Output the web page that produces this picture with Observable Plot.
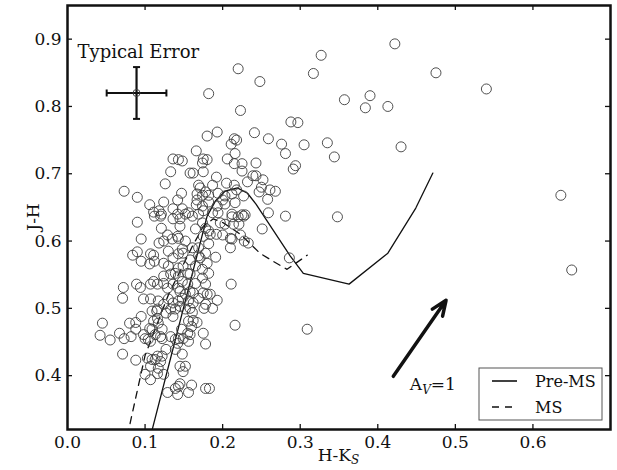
<!DOCTYPE html>
<html><head><meta charset="utf-8">
<script src="https://cdn.jsdelivr.net/npm/d3@7"></script>
<script src="https://cdn.jsdelivr.net/npm/@observablehq/plot@0.6"></script>
<style>
body{margin:0;background:#fff;}
#chart{width:617px;height:470px;}
</style></head><body><div id="chart"></div>
<script>
// Stars: H-Ks and J-H colours
const hk = [
0.327,0.220,0.248,0.317,0.357,0.182,0.223,0.288,0.297,0.180,
0.193,0.241,0.259,0.215,0.218,0.211,0.276,0.305,0.335,0.281,
0.344,0.166,0.136,0.143,0.148,0.175,0.180,0.206,0.216,0.215,
0.225,0.243,0.174,0.294,0.291,0.225,0.133,0.158,0.162,0.175,
0.239,0.243,0.192,0.205,0.252,0.232,0.126,0.073,0.090,0.169,
0.171,0.187,0.215,0.147,0.218,0.250,0.247,0.261,0.178,0.167,
0.174,0.182,0.194,0.203,0.212,0.227,0.258,0.142,0.167,0.182,
0.200,0.216,0.166,0.174,0.193,0.203,0.148,0.156,0.175,0.187,
0.194,0.212,0.225,0.229,0.259,0.106,0.124,0.111,0.118,0.136,
0.121,0.268,0.281,0.348,0.286,0.309,0.211,0.216,0.422,0.475,
0.540,0.390,0.384,0.413,0.430,0.636,0.650,
0.090,0.112,0.120,0.142,0.136,0.121,0.095,0.118,0.124,0.129,
0.135,0.142,0.090,0.084,0.095,0.107,0.111,0.106,0.112,0.124,
0.130,0.136,0.143,0.130,0.124,0.133,0.139,0.143,0.072,0.071,
0.089,0.094,0.107,0.111,0.116,0.124,0.129,0.136,0.143,0.098,
0.107,0.117,0.124,0.130,0.136,0.143,0.116,0.133,
0.145,0.152,0.161,0.169,0.212,0.220,0.227,0.197,0.203,0.214,
0.221,0.145,0.174,0.178,0.165,0.182,0.184,0.192,0.200,0.210,
0.212,0.251,0.223,0.228,0.233,0.143,0.152,0.175,0.182,0.210,
0.148,0.161,0.169,0.178,0.149,0.169,0.171,0.191,0.158,0.180,
0.143,0.149,0.165,0.174,0.155,0.158,0.174,0.182,0.148,0.155,
0.165,0.178,0.145,0.152,0.158,0.162,0.175,0.180,0.184,0.193,
0.148,0.169,0.156,0.162,0.178,0.187,0.145,0.152,
0.045,0.042,0.055,0.067,0.073,0.082,0.080,0.088,0.088,0.095,
0.109,0.115,0.116,0.111,0.117,0.106,0.109,0.122,0.098,0.100,
0.104,0.107,0.113,0.120,0.122,0.133,0.139,0.143,0.127,0.136,
0.139,0.071,0.088,0.103,0.109,0.116,0.122,0.113,0.120,0.139,
0.127,0.107,0.117,0.100,0.107,0.116,0.124,0.139,0.143,0.142,
0.129,
0.158,0.176,0.161,0.156,0.162,0.167,0.160,0.147,0.155,0.158,
0.175,0.149,0.156,0.142,0.178,0.148,0.145,0.152,0.149,0.145,
0.160,0.156,0.178,0.183
];
const jh = [
0.876,0.856,0.837,0.849,0.810,0.819,0.794,0.777,0.776,0.756,
0.762,0.761,0.752,0.752,0.750,0.744,0.744,0.743,0.746,0.730,
0.725,0.734,0.722,0.721,0.719,0.722,0.721,0.722,0.730,0.715,
0.715,0.716,0.716,0.712,0.707,0.704,0.703,0.701,0.701,0.703,
0.697,0.697,0.695,0.686,0.691,0.688,0.685,0.674,0.665,0.683,
0.679,0.683,0.683,0.671,0.676,0.680,0.673,0.676,0.673,0.670,
0.668,0.668,0.671,0.667,0.670,0.667,0.662,0.661,0.661,0.658,
0.661,0.657,0.654,0.652,0.652,0.655,0.648,0.642,0.645,0.642,
0.642,0.640,0.639,0.639,0.642,0.654,0.658,0.643,0.645,0.648,
0.640,0.674,0.637,0.636,0.575,0.469,0.536,0.475,0.893,0.850,
0.826,0.816,0.798,0.800,0.740,0.668,0.557,
0.628,0.637,0.637,0.640,0.633,0.619,0.603,0.597,0.600,0.609,
0.603,0.607,0.584,0.579,0.570,0.581,0.579,0.566,0.570,0.567,
0.585,0.575,0.581,0.563,0.548,0.551,0.552,0.548,0.531,0.515,
0.536,0.531,0.536,0.540,0.536,0.537,0.530,0.536,0.530,0.514,
0.514,0.511,0.506,0.514,0.508,0.511,0.499,0.499,
0.633,0.640,0.637,0.640,0.636,0.636,0.637,0.627,0.625,0.625,
0.625,0.622,0.627,0.619,0.618,0.615,0.610,0.610,0.609,0.604,
0.603,0.618,0.609,0.600,0.597,0.604,0.600,0.607,0.596,0.590,
0.588,0.590,0.590,0.582,0.582,0.578,0.575,0.576,0.572,0.567,
0.560,0.563,0.563,0.558,0.552,0.551,0.545,0.552,0.540,0.536,
0.537,0.536,0.525,0.521,0.525,0.523,0.523,0.521,0.521,0.512,
0.515,0.515,0.511,0.508,0.506,0.500,0.503,0.499,
0.478,0.460,0.453,0.463,0.455,0.458,0.478,0.479,0.469,0.488,
0.496,0.496,0.485,0.481,0.478,0.470,0.469,0.469,0.461,0.455,
0.454,0.451,0.461,0.458,0.455,0.458,0.454,0.455,0.493,0.488,
0.499,0.432,0.423,0.426,0.424,0.429,0.429,0.424,0.421,0.439,
0.439,0.414,0.411,0.402,0.394,0.403,0.402,0.381,0.384,0.372,
0.375,
0.500,0.500,0.494,0.481,0.482,0.479,0.473,0.469,0.463,0.461,
0.463,0.455,0.451,0.448,0.447,0.432,0.414,0.414,0.406,0.388,
0.386,0.375,0.381,0.381
];

// Pre-main-sequence locus (solid)
const preMsHK = [0.107,0.180,0.191,0.203,0.219,0.232,0.243,0.287,0.304,0.363,0.413,0.449,0.471];
const preMsJH = [0.310,0.637,0.660,0.674,0.679,0.671,0.655,0.578,0.552,0.536,0.582,0.649,0.701];
// Main-sequence locus (dashed)
const msHK = [0.077,0.100,0.130,0.160,0.175,0.188,0.201,0.223,0.248,0.265,0.283,0.309];
const msJH = [0.310,0.430,0.520,0.590,0.622,0.633,0.627,0.610,0.582,0.570,0.558,0.579];

// Ticks
const xTicks = [0.0,0.1,0.2,0.3,0.4,0.5,0.6];
const yTicks = [0.4,0.5,0.6,0.7,0.8,0.9];

// Typical error bar
const errHK = [0.089];
const errJH = [0.820];
const errDHK = [0.0385];
const errDJH = [0.0385];

// Reddening vector A_V = 1
const vecHK = [0.420, 0.488];
const vecJH = [0.399, 0.512];

// Annotations
const errLabel = [{hk: 0.013, jh: 0.880, text: "Typical Error"}];
const avLabel = {hk: 0.442, jh: 0.378};

const W = 617, H = 470, mL = 67, mR = 7, mT = 5, mB = 41;
const innerH = H - mT - mB;
const innerW = W - mL - mR;
const ink = "#111";

const stars = hk.map((x, i) => ({hk: x, jh: jh[i]}));
const preMs = preMsHK.map((x, i) => ({hk: x, jh: preMsJH[i]}));
const ms = msHK.map((x, i) => ({hk: x, jh: msJH[i]}));
const err = errHK.map((x, i) => ({hk: x, jh: errJH[i], dhk: errDHK[i], djh: errDJH[i]}));
const vec = [{x1: vecHK[0], y1: vecJH[0], x2: vecHK[1], y2: vecJH[1]}];

const vCap = {draw(ctx) { ctx.moveTo(0, -3.5); ctx.lineTo(0, 3.5); }};
const hCap = {draw(ctx) { ctx.moveTo(-3.5, 0); ctx.lineTo(3.5, 0); }};

const plot = Plot.plot({
  width: W, height: H,
  marginLeft: mL, marginRight: mR, marginTop: mT, marginBottom: mB,
  x: {domain: [0, 0.7]},
  y: {domain: [0.32, 0.95]},
  style: {fontFamily: "DejaVu Serif", fontSize: "17px", color: ink, background: "#fff"},
  marks: [
    Plot.line(preMs, {x: "hk", y: "jh", stroke: ink, strokeWidth: 1.3, clip: true}),
    Plot.line(ms, {x: "hk", y: "jh", stroke: ink, strokeWidth: 1.3, strokeDasharray: "7,6", clip: true}),
    Plot.dot(stars, {x: "hk", y: "jh", r: 5, stroke: "#3c3c3c", strokeWidth: 0.9, fill: "none"}),
    // error bar
    Plot.link(err, {x1: d => d.hk - d.dhk, x2: d => d.hk + d.dhk, y1: "jh", y2: "jh", stroke: ink, strokeWidth: 2.2}),
    Plot.link(err, {x1: "hk", x2: "hk", y1: d => d.jh - d.djh, y2: d => d.jh + d.djh, stroke: ink, strokeWidth: 2.2}),
    Plot.dot(err.flatMap(d => [{x: d.hk - d.dhk, y: d.jh}, {x: d.hk + d.dhk, y: d.jh}]), {x: "x", y: "y", symbol: vCap, stroke: ink, fill: "none", strokeWidth: 2}),
    Plot.dot(err.flatMap(d => [{x: d.hk, y: d.jh - d.djh}, {x: d.hk, y: d.jh + d.djh}]), {x: "x", y: "y", symbol: hCap, stroke: ink, fill: "none", strokeWidth: 2}),
    Plot.dot(err, {x: "hk", y: "jh", r: 3.5, stroke: "#3c3c3c", strokeWidth: 0.9, fill: "none"}),
    Plot.text(errLabel, {x: "hk", y: "jh", text: "text", textAnchor: "start", fontSize: 18, fill: ink}),
    // reddening vector
    Plot.arrow(vec, {x1: "x1", y1: "y1", x2: "x2", y2: "y2", stroke: ink, strokeWidth: 3.5, headLength: 7, headAngle: 45}),
    // axes labels
    Plot.axisX({ticks: xTicks, tickSize: 0, tickPadding: 6, tickFormat: d => d.toFixed(1), label: null, fontSize: 17}),
    Plot.axisY({ticks: yTicks, tickSize: 0, tickPadding: 6, tickFormat: d => d.toFixed(1), label: null, fontSize: 17}),
    // inward ticks on all four sides
    Plot.ruleX(xTicks.slice(1), {x: d => d, stroke: ink, strokeWidth: 1.3, insetTop: innerH - 5}),
    Plot.ruleX(xTicks.slice(1), {x: d => d, stroke: ink, strokeWidth: 1.3, insetBottom: innerH - 5}),
    Plot.ruleY(yTicks, {y: d => d, stroke: ink, strokeWidth: 1.3, insetRight: innerW - 5}),
    Plot.ruleY(yTicks, {y: d => d, stroke: ink, strokeWidth: 1.3, insetLeft: innerW - 5}),
    Plot.frame({stroke: ink, strokeWidth: 2.5})
  ]
});

document.getElementById("chart").appendChild(plot);

const svg = d3.select(plot);
const sx = plot.scale("x"), sy = plot.scale("y");
const font = "DejaVu Serif";

// y-axis label
svg.append("text")
  .attr("transform", `translate(${mL - 28},${mT + innerH / 2}) rotate(-90)`)
  .attr("text-anchor", "middle").attr("font-family", font).attr("font-size", 17).attr("fill", ink)
  .text("J-H");

// x-axis label with subscript
const xl = svg.append("text")
  .attr("x", mL + innerW / 2).attr("y", H - 9)
  .attr("text-anchor", "middle").attr("font-family", font).attr("font-size", 17).attr("fill", ink);
xl.append("tspan").text("H-K");
xl.append("tspan").attr("font-size", 12).attr("font-style", "italic").attr("dy", 3).text("S");

// A_V = 1 label
const av = svg.append("text")
  .attr("x", sx.apply(avLabel.hk)).attr("y", sy.apply(avLabel.jh))
  .attr("text-anchor", "start").attr("font-family", font).attr("font-size", 17).attr("fill", ink);
av.append("tspan").text("A");
av.append("tspan").attr("font-size", 12).attr("font-style", "italic").attr("dy", 4).text("V");
av.append("tspan").attr("dy", -4).text("=1");

// Legend
const lg = svg.append("g").attr("font-family", font).attr("font-size", 16).attr("fill", ink).attr("text-anchor", "start");
lg.append("rect").attr("x", 479).attr("y", 368).attr("width", 123).attr("height", 52)
  .attr("fill", "#fff").attr("stroke", "#555").attr("stroke-width", 1);
lg.append("line").attr("x1", 492).attr("x2", 517).attr("y1", 381).attr("y2", 381)
  .attr("stroke", ink).attr("stroke-width", 1.6);
lg.append("line").attr("x1", 492).attr("x2", 515).attr("y1", 407).attr("y2", 407)
  .attr("stroke", ink).attr("stroke-width", 1.3).attr("stroke-dasharray", "7,6");
lg.append("text").attr("x", 535).attr("y", 387).attr("text-anchor", "start").text("Pre-MS");
lg.append("text").attr("x", 535).attr("y", 413).attr("text-anchor", "start").text("MS");
</script>
</body></html>
